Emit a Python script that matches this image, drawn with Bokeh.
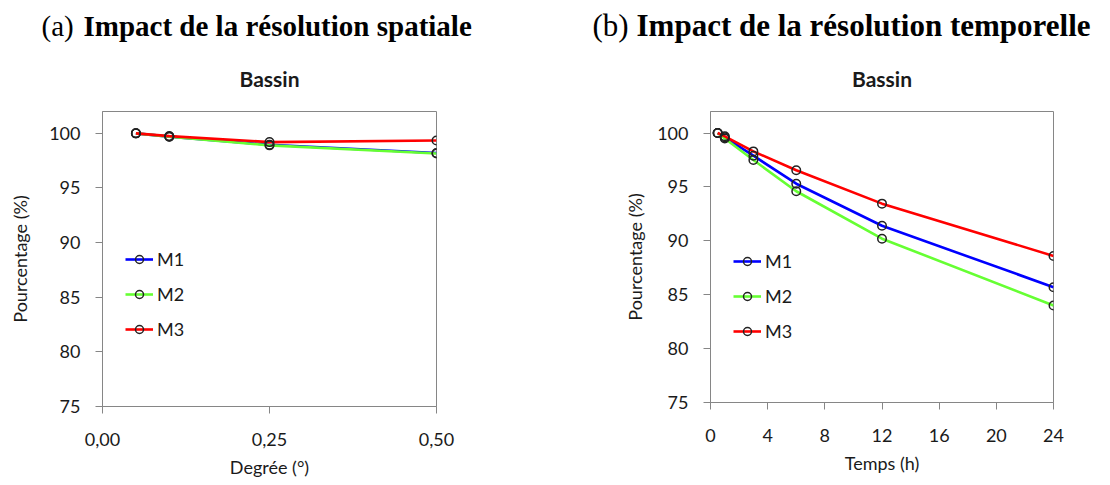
from bokeh.plotting import figure
from bokeh.layouts import row, column
from bokeh.models import Legend, LegendItem, FixedTicker, Range1d
from bokeh.core.properties import value
from bokeh.embed import file_html
from bokeh.resources import INLINE

# ---- data ----
series = ["M1", "M2", "M3"]
colors = ["#0000FF", "#66FF33", "#FF0000"]

deg = [0.05, 0.1, 0.25, 0.5]
a_m1 = [100.0, 99.7, 98.95, 98.2]
a_m2 = [100.0, 99.7, 98.9, 98.15]
a_m3 = [100.0, 99.75, 99.2, 99.35]

hours = [0.5, 1, 3, 6, 12, 24]
b_m1 = [100.0, 99.6, 97.9, 95.3, 91.4, 85.7]
b_m2 = [100.0, 99.5, 97.5, 94.6, 90.2, 84.0]
b_m3 = [100.0, 99.7, 98.3, 96.55, 93.45, 88.6]

y_ticks = [75, 80, 85, 90, 95, 100]
a_xticks = [0, 0.25, 0.5]
a_xlabels = ["0,00", "0,25", "0,50"]
b_xticks = [0, 4, 8, 12, 16, 20, 24]
b_xlabels = ["0", "4", "8", "12", "16", "20", "24"]

tags = ["(a)", "(b)"]
headings = ["Impact de la résolution spatiale", "Impact de la résolution temporelle"]
subtitles = ["Bassin", "Bassin"]

SANS = "Lato"
SERIF = "Liberation Serif"
AX = "#868686"
TXT = "#1a1a1a"

W = 1094
HEAD_H = 90

# ---- header (titles) ----
hd = figure(width=W, height=HEAD_H, x_range=Range1d(0, W), y_range=Range1d(HEAD_H, 0),
            min_border=0, output_backend="svg", toolbar_location=None)
hd.axis.visible = False
hd.grid.visible = False
hd.outline_line_color = None
hd.text(x=[41], y=[25], text=tags[:1], text_font=value(SERIF),
        text_font_size="29px", text_baseline="alphabetic", text_color="black")
hd.text(x=[83], y=[25], text=headings[:1], text_font=value(SERIF),
        text_font_size="29px", text_font_style="bold",
        text_baseline="alphabetic", text_color="black")
hd.text(x=[592], y=[25], text=tags[1:], text_font=value(SERIF),
        text_font_size="31px", text_baseline="alphabetic", text_color="black")
hd.text(x=[636], y=[25], text=headings[1:], text_font=value(SERIF),
        text_font_size="31px", text_font_style="bold",
        text_baseline="alphabetic", text_color="black")
hd.text(x=[102 + 334 / 2, 547 + 163 + 343 / 2], y=[78, 78], text=subtitles,
        text_font=value(SANS), text_font_size="21px", text_font_style="bold",
        text_align="center", text_baseline="middle", text_color=TXT)


def build(xs, vals, x_range, xticks, xlabels, xlabel, geom, ylab_standoff, leg_loc):
    ml, fw, mr, mt, fh, mb = geom
    p = figure(frame_width=fw, frame_height=fh,
               min_border_left=ml, min_border_right=mr,
               min_border_top=mt, min_border_bottom=mb,
               x_range=Range1d(*x_range), y_range=Range1d(75, 102),
               output_backend="svg", toolbar_location=None)
    p.outline_line_color = AX
    p.outline_line_width = 1
    p.grid.visible = False

    for ax in (p.xaxis[0], p.yaxis[0]):
        ax.axis_line_color = AX
        ax.major_tick_line_color = AX
        ax.major_tick_out = 7
        ax.major_tick_in = 0
        ax.minor_tick_line_color = None
        ax.major_label_text_font = SANS
        ax.major_label_text_font_size = "18px"
        ax.major_label_text_color = TXT
        ax.axis_label_text_font = SANS
        ax.axis_label_text_font_size = "18px"
        ax.axis_label_text_font_style = "normal"
        ax.axis_label_text_color = TXT

    p.xaxis[0].ticker = FixedTicker(ticks=xticks)
    p.xaxis[0].major_label_overrides = {t: l for t, l in zip(xticks, xlabels)}
    p.xaxis[0].major_label_standoff = 19
    p.xaxis[0].axis_label = xlabel
    p.xaxis[0].axis_label_standoff = 7

    p.yaxis[0].ticker = FixedTicker(ticks=y_ticks)
    p.yaxis[0].major_label_standoff = 15
    p.yaxis[0].axis_label = "Pourcentage (%)"
    p.yaxis[0].axis_label_standoff = ylab_standoff

    items = []
    lines = []
    for name, col, ys in zip(series, colors, vals):
        lr = p.line(xs, ys, line_color=col, line_width=2.6)
        lines.append((name, lr))
    for (name, lr), ys in zip(lines, vals):
        sr = p.scatter(xs, ys, marker="circle", size=8.5, fill_color=None,
                       line_color="#222222", line_width=1.5)
        items.append(LegendItem(label=name, renderers=[lr, sr]))

    leg = Legend(items=items, location=leg_loc, padding=0, margin=0,
                 border_line_color=None, background_fill_alpha=0,
                 glyph_width=28, glyph_height=20, label_height=20,
                 spacing=13, label_standoff=4,
                 label_text_font=SANS, label_text_font_size="18px",
                 label_text_color=TXT)
    p.add_layout(leg)
    return p


pa = build(deg, [a_m1, a_m2, a_m3], (0, 0.5), a_xticks, a_xlabels, "Degrée (°)",
           (102, 334, 111, 20, 295, 64), 15, (23, 66))
pb = build(hours, [b_m1, b_m2, b_m3], (0, 24), b_xticks, b_xlabels, "Temps (h)",
           (163, 343, 41, 21, 291, 67), 8, (23, 60))

layout = column(hd, row(pa, pb, spacing=0), spacing=0)
open("out.html", "w").write(file_html(layout, INLINE))
